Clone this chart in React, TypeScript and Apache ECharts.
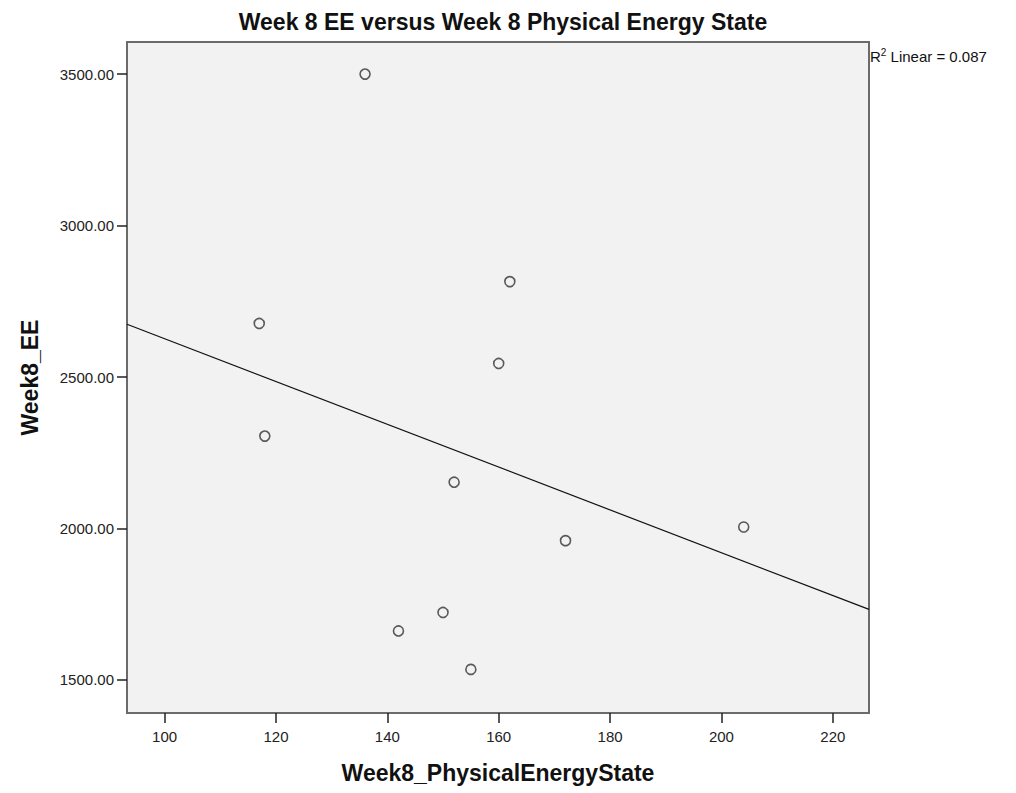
import React, { useEffect, useRef } from "react";
import * as echarts from "echarts";

// Week 8 physical energy state scores (x) and energy expenditure (y)
const physicalEnergyState = [136, 162, 117, 160, 118, 152, 172, 204, 150, 142, 155];
const energyExpenditure = [3500, 2815, 2677, 2545, 2305, 2153, 1960, 2005, 1723, 1662, 1535];

const xTicks = [100, 120, 140, 160, 180, 200, 220];
const yTicks = [1500, 2000, 2500, 3000, 3500];

const X_MIN = 93.25;
const X_MAX = 226.5;
const Y_MIN = 1391;
const Y_MAX = 3606;

// Ordinary least squares fit of EE on physical energy state
function linearFit(xs: number[], ys: number[]) {
  const n = xs.length;
  const mx = xs.reduce((a, b) => a + b, 0) / n;
  const my = ys.reduce((a, b) => a + b, 0) / n;
  let sxy = 0;
  let sxx = 0;
  let syy = 0;
  for (let i = 0; i < n; i++) {
    const dx = xs[i] - mx;
    const dy = ys[i] - my;
    sxy += dx * dy;
    sxx += dx * dx;
    syy += dy * dy;
  }
  const slope = sxy / sxx;
  const intercept = my - slope * mx;
  const r2 = (sxy * sxy) / (sxx * syy);
  return { slope, intercept, r2 };
}

const FONT = "'Liberation Sans', Arial, Helvetica, sans-serif";
const FRAME = "#6b6b6b";

export default function App() {
  const ref = useRef<HTMLDivElement>(null);

  useEffect(() => {
    document.body.style.margin = "0";
    if (!ref.current) return;
    const chart = echarts.init(ref.current, null, { renderer: "svg" });
    const fit = linearFit(physicalEnergyState, energyExpenditure);
    const fitLine = [
      [X_MIN, fit.intercept + fit.slope * X_MIN],
      [X_MAX, fit.intercept + fit.slope * X_MAX],
    ];
    const points = physicalEnergyState.map((x, i) => [x, energyExpenditure[i]]);

    const tickStyle = { color: "#222222", width: 1.5 };

    chart.setOption({
      animation: false,
      backgroundColor: "#ffffff",
      title: {
        text: "Week 8 EE versus Week 8 Physical Energy State",
        left: 498,
        textAlign: "center",
        top: 5,
        textStyle: {
          fontFamily: FONT,
          fontWeight: "bold",
          fontSize: 23,
          color: "#111111",
        },
      },
      grid: {
        left: 127,
        right: 147,
        top: 42,
        bottom: 80,
        show: true,
        backgroundColor: "#f2f2f2",
        borderColor: FRAME,
        borderWidth: 2,
      },
      xAxis: {
        type: "value",
        min: X_MIN,
        max: X_MAX,
        name: "Week8_PhysicalEnergyState",
        nameLocation: "middle",
        nameGap: 48,
        nameTextStyle: {
          fontFamily: FONT,
          fontWeight: "bold",
          fontSize: 23,
          color: "#111111",
        },
        axisLine: { show: true, lineStyle: { color: FRAME, width: 2 } },
        splitLine: { show: false },
        axisTick: {
          show: true,
          customValues: xTicks,
          length: 10,
          lineStyle: tickStyle,
        },
        axisLabel: {
          customValues: xTicks,
          fontFamily: FONT,
          fontSize: 15,
          color: "#222222",
          margin: 16,
        },
      },
      yAxis: {
        type: "value",
        min: Y_MIN,
        max: Y_MAX,
        name: "Week8_EE",
        nameLocation: "middle",
        nameGap: 86,
        nameTextStyle: {
          fontFamily: FONT,
          fontWeight: "bold",
          fontSize: 23,
          color: "#111111",
        },
        axisLine: { show: true, lineStyle: { color: FRAME, width: 2 } },
        splitLine: { show: false },
        axisTick: {
          show: true,
          customValues: yTicks,
          length: 10,
          lineStyle: tickStyle,
        },
        axisLabel: {
          customValues: yTicks,
          fontFamily: FONT,
          fontSize: 15,
          color: "#222222",
          margin: 13,
          formatter: (v: number) => v.toFixed(2),
        },
      },
      graphic: [
        {
          type: "text",
          left: 870,
          top: 47,
          style: {
            text: "{r|R}{s|2}{t| Linear = " + fit.r2.toFixed(3) + "}",
            rich: {
              r: { fontFamily: FONT, fontSize: 15, fill: "#111111", verticalAlign: "bottom" },
              s: { fontFamily: FONT, fontSize: 10, fill: "#111111", verticalAlign: "top", padding: [0, 0, 7, 0] },
              t: { fontFamily: FONT, fontSize: 15, fill: "#111111", verticalAlign: "bottom" },
            },
          },
        },
      ],
      series: [
        {
          type: "line",
          data: fitLine,
          symbol: "none",
          lineStyle: { color: "#111111", width: 1.2 },
          silent: true,
          z: 2,
        },
        {
          type: "scatter",
          data: points,
          symbol: "circle",
          symbolSize: 10,
          itemStyle: {
            color: "rgba(0,0,0,0)",
            borderColor: "#333333",
            borderWidth: 1.6,
          },
          z: 3,
        },
      ],
    });
    return () => chart.dispose();
  }, []);

  return <div ref={ref} style={{ width: 1016, height: 793 }} />;
}
